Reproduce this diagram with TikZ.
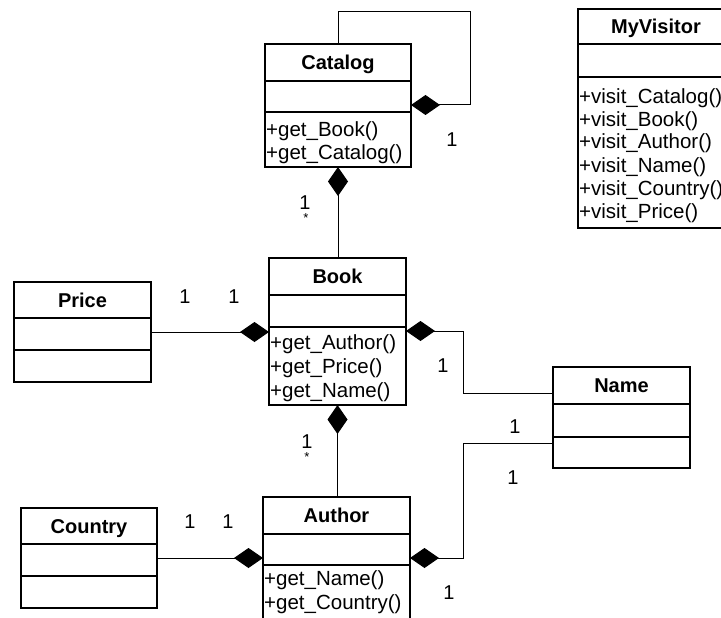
\documentclass[tikz,border=0pt]{standalone}
\usepackage{fontspec}
\setmainfont{Liberation Sans}
\usetikzlibrary{arrows.meta,fit}
\tikzset{
 box/.style={draw, line width=1.3pt, inner sep=0pt, outer sep=0pt},
 sepline/.style={line width=1.3pt},
 title/.style={font=\fontsize{20}{24}\selectfont\bfseries, inner sep=0pt, anchor=base},
 optext/.style={font=\fontsize{20.5}{24}\selectfont, anchor=base west, inner sep=0pt},
 mult/.style={font=\fontsize{20}{24}\selectfont, inner sep=0pt},
 star/.style={font=\fontsize{13}{14}\selectfont, inner sep=0pt},
 comp/.style={line width=1pt, -{Diamond[length=29pt,width=20pt]}},
}
% #1 name, #2 left, #3 right, #4 top, #5 header bottom, #6 attr bottom, #7 bottom, #8 title
\newcommand\umlcls[8]{%
 \node[box, fit={(#2,#4) (#3,#7)}] (#1) {};
 \draw[sepline] (#1.west |- 0,#5) -- (#1.east |- 0,#5);
 \draw[sepline] (#1.west |- 0,#6) -- (#1.east |- 0,#6);
 \node[title] (#1-t) at ({(#2+#3)/2},{(#4+#5)/2+7}) {#8};
}
% #1 name, #2 first baseline, #3 spacing, #4 list
\newcommand\umlops[4]{%
 \foreach \t [count=\i from 0] in {#4}
   \node[optext] (#1-o\i) at ([xshift=1pt]#1.west |- 0,{#2+#3*\i}) {\t};
}
\begin{document}
\begin{tikzpicture}[x=1pt,y=-1pt]
\useasboundingbox (0,0) rectangle (721,618);
\clip (0,0) rectangle (721,618);

\umlcls{catalog}{265}{411}{44}{81}{112}{167}{Catalog}
\umlops{catalog}{136}{23.5}{+get\_Book(),+get\_Catalog()}

\umlcls{visitor}{578}{734}{9}{44}{77}{228}{MyVisitor}
\umlops{visitor}{103}{23}{+visit\_Catalog(),+visit\_Book(),+visit\_Author(),+visit\_Name(),+visit\_Country(),+visit\_Price()}

\umlcls{book}{269}{406}{258}{295}{327}{405}{Book}
\umlops{book}{349}{24}{+get\_Author(),+get\_Price(),+get\_Name()}

\umlcls{price}{14}{151}{282}{318}{350}{382}{Price}
\umlcls{name}{553}{690}{367}{404}{437}{468}{Name}

\umlcls{author}{263}{410}{497}{534}{565}{632}{Author}
\umlops{author}{585}{24}{+get\_Name(),+get\_Country()}

\umlcls{country}{21}{157}{508}{544}{576}{608}{Country}

% connectors
\coordinate (selfA) at (338,12);
\coordinate (selfB) at (470,12);
\coordinate (selfC) at (470,105);
\draw[comp] (catalog.north) -- (selfA) -- (selfB) -- (selfC) -- (catalog.east |- selfC);

\draw[comp] (catalog.south |- book.north) -- (catalog.south);
\draw[comp] (price.east |- 0,332) -- (book.west |- 0,332);

\coordinate (bn1) at (463,393);
\coordinate (bn2) at (463,331);
\draw[comp] (name.west |- bn1) -- (bn1) -- (bn2) -- (book.east |- bn2);

\draw[comp] (book.south |- author.north) -- (book.south);

\coordinate (an1) at (463,443);
\coordinate (an2) at (463,558);
\draw[comp] (name.west |- an1) -- (an1) -- (an2) -- (author.east |- an2);

\draw[comp] (country.east |- 0,558) -- (author.west |- 0,558);

% multiplicities
\node[mult] (m1) at (452,140) {1};
\node[mult] (m2) at (305,203) {1};
\node[star] (s2) at (306,218) {*};
\node[mult] (m3) at (185,297) {1};
\node[mult] (m4) at (234,297) {1};
\node[mult] (m5) at (443,366) {1};
\node[mult] (m6) at (515,427) {1};
\node[mult] (m7) at (513,478) {1};
\node[mult] (m8) at (307,442) {1};
\node[star] (s8) at (307,457) {*};
\node[mult] (m9) at (190,522) {1};
\node[mult] (m10) at (228,522) {1};
\node[mult] (m11) at (449,593) {1};
\end{tikzpicture}
\end{document}
